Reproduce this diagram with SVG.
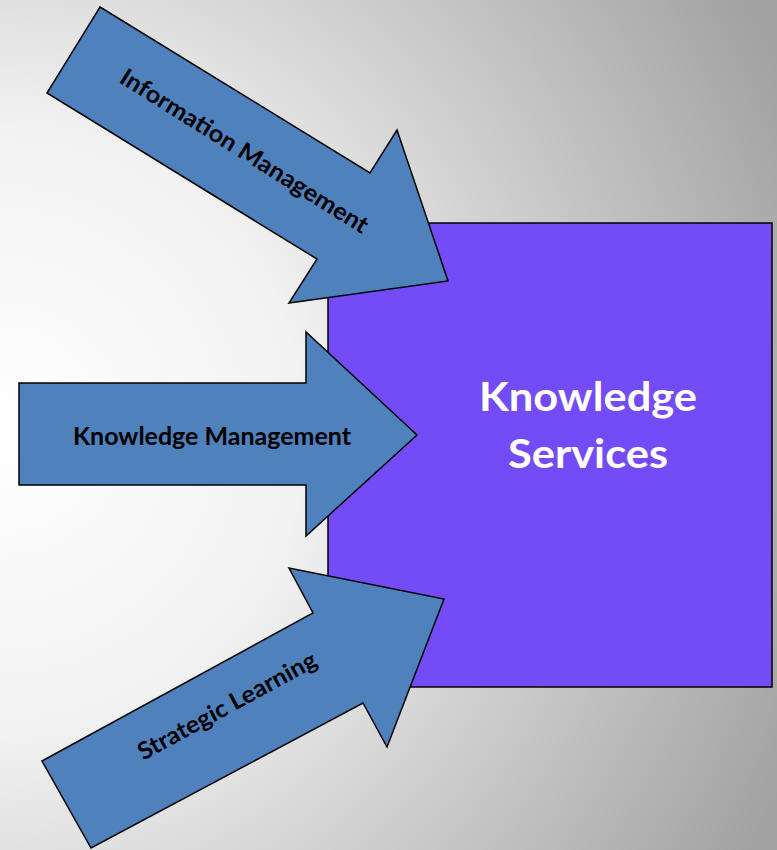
<svg xmlns="http://www.w3.org/2000/svg" width="777" height="850" viewBox="0 0 777 850">
<defs>
<radialGradient id="bg" gradientUnits="userSpaceOnUse" cx="0" cy="430" r="860">
<stop offset="0" stop-color="#ffffff"/>
<stop offset="0.35" stop-color="#f2f2f2"/>
<stop offset="1" stop-color="#a2a2a2"/>
</radialGradient>
<style>
.arrow{fill:#4f81bd;stroke:#000;stroke-width:1.5;stroke-linejoin:miter}
.lbl{font-family:Lato,"Open Sans","Liberation Sans",sans-serif;font-weight:bold;font-size:24px;fill:#000}
.big{font-family:Lato,"Open Sans","Liberation Sans",sans-serif;font-weight:bold;font-size:40px;fill:#fff;text-anchor:middle}
</style>
</defs>
<rect x="0" y="0" width="777" height="850" fill="url(#bg)"/>
<g id="knowledge-services">
<rect x="328" y="223" width="444" height="464" fill="#734cf8" stroke="#000" stroke-width="1.5"/>
<text class="big" x="588" y="411" textLength="218" lengthAdjust="spacingAndGlyphs">Knowledge</text>
<text class="big" x="588" y="468" textLength="160" lengthAdjust="spacingAndGlyphs">Services</text>
</g>
<g id="connectors">
<g id="information-management">
<polygon class="arrow" points="100,7 370,173 397,130 448,281 289,303 317,259 47,93"/>
<text class="lbl" transform="translate(240,158) rotate(32)" x="-144" y="0" textLength="288" lengthAdjust="spacingAndGlyphs">Information Management</text>
</g>
<g id="knowledge-management">
<polygon class="arrow" points="19,383 306,383 306,332 417,435 306,536 306,485 19,485"/>
<text class="lbl" x="73" y="445" textLength="278" lengthAdjust="spacingAndGlyphs">Knowledge Management</text>
</g>
<g id="strategic-learning">
<polygon class="arrow" points="42,761 313,613 289,568 444,599 387,747 363,703 91,848"/>
<text class="lbl" transform="translate(231,713) rotate(-28.6)" x="-100" y="0" textLength="200" lengthAdjust="spacingAndGlyphs">Strategic Learning</text>
</g>
</g>
</svg>
